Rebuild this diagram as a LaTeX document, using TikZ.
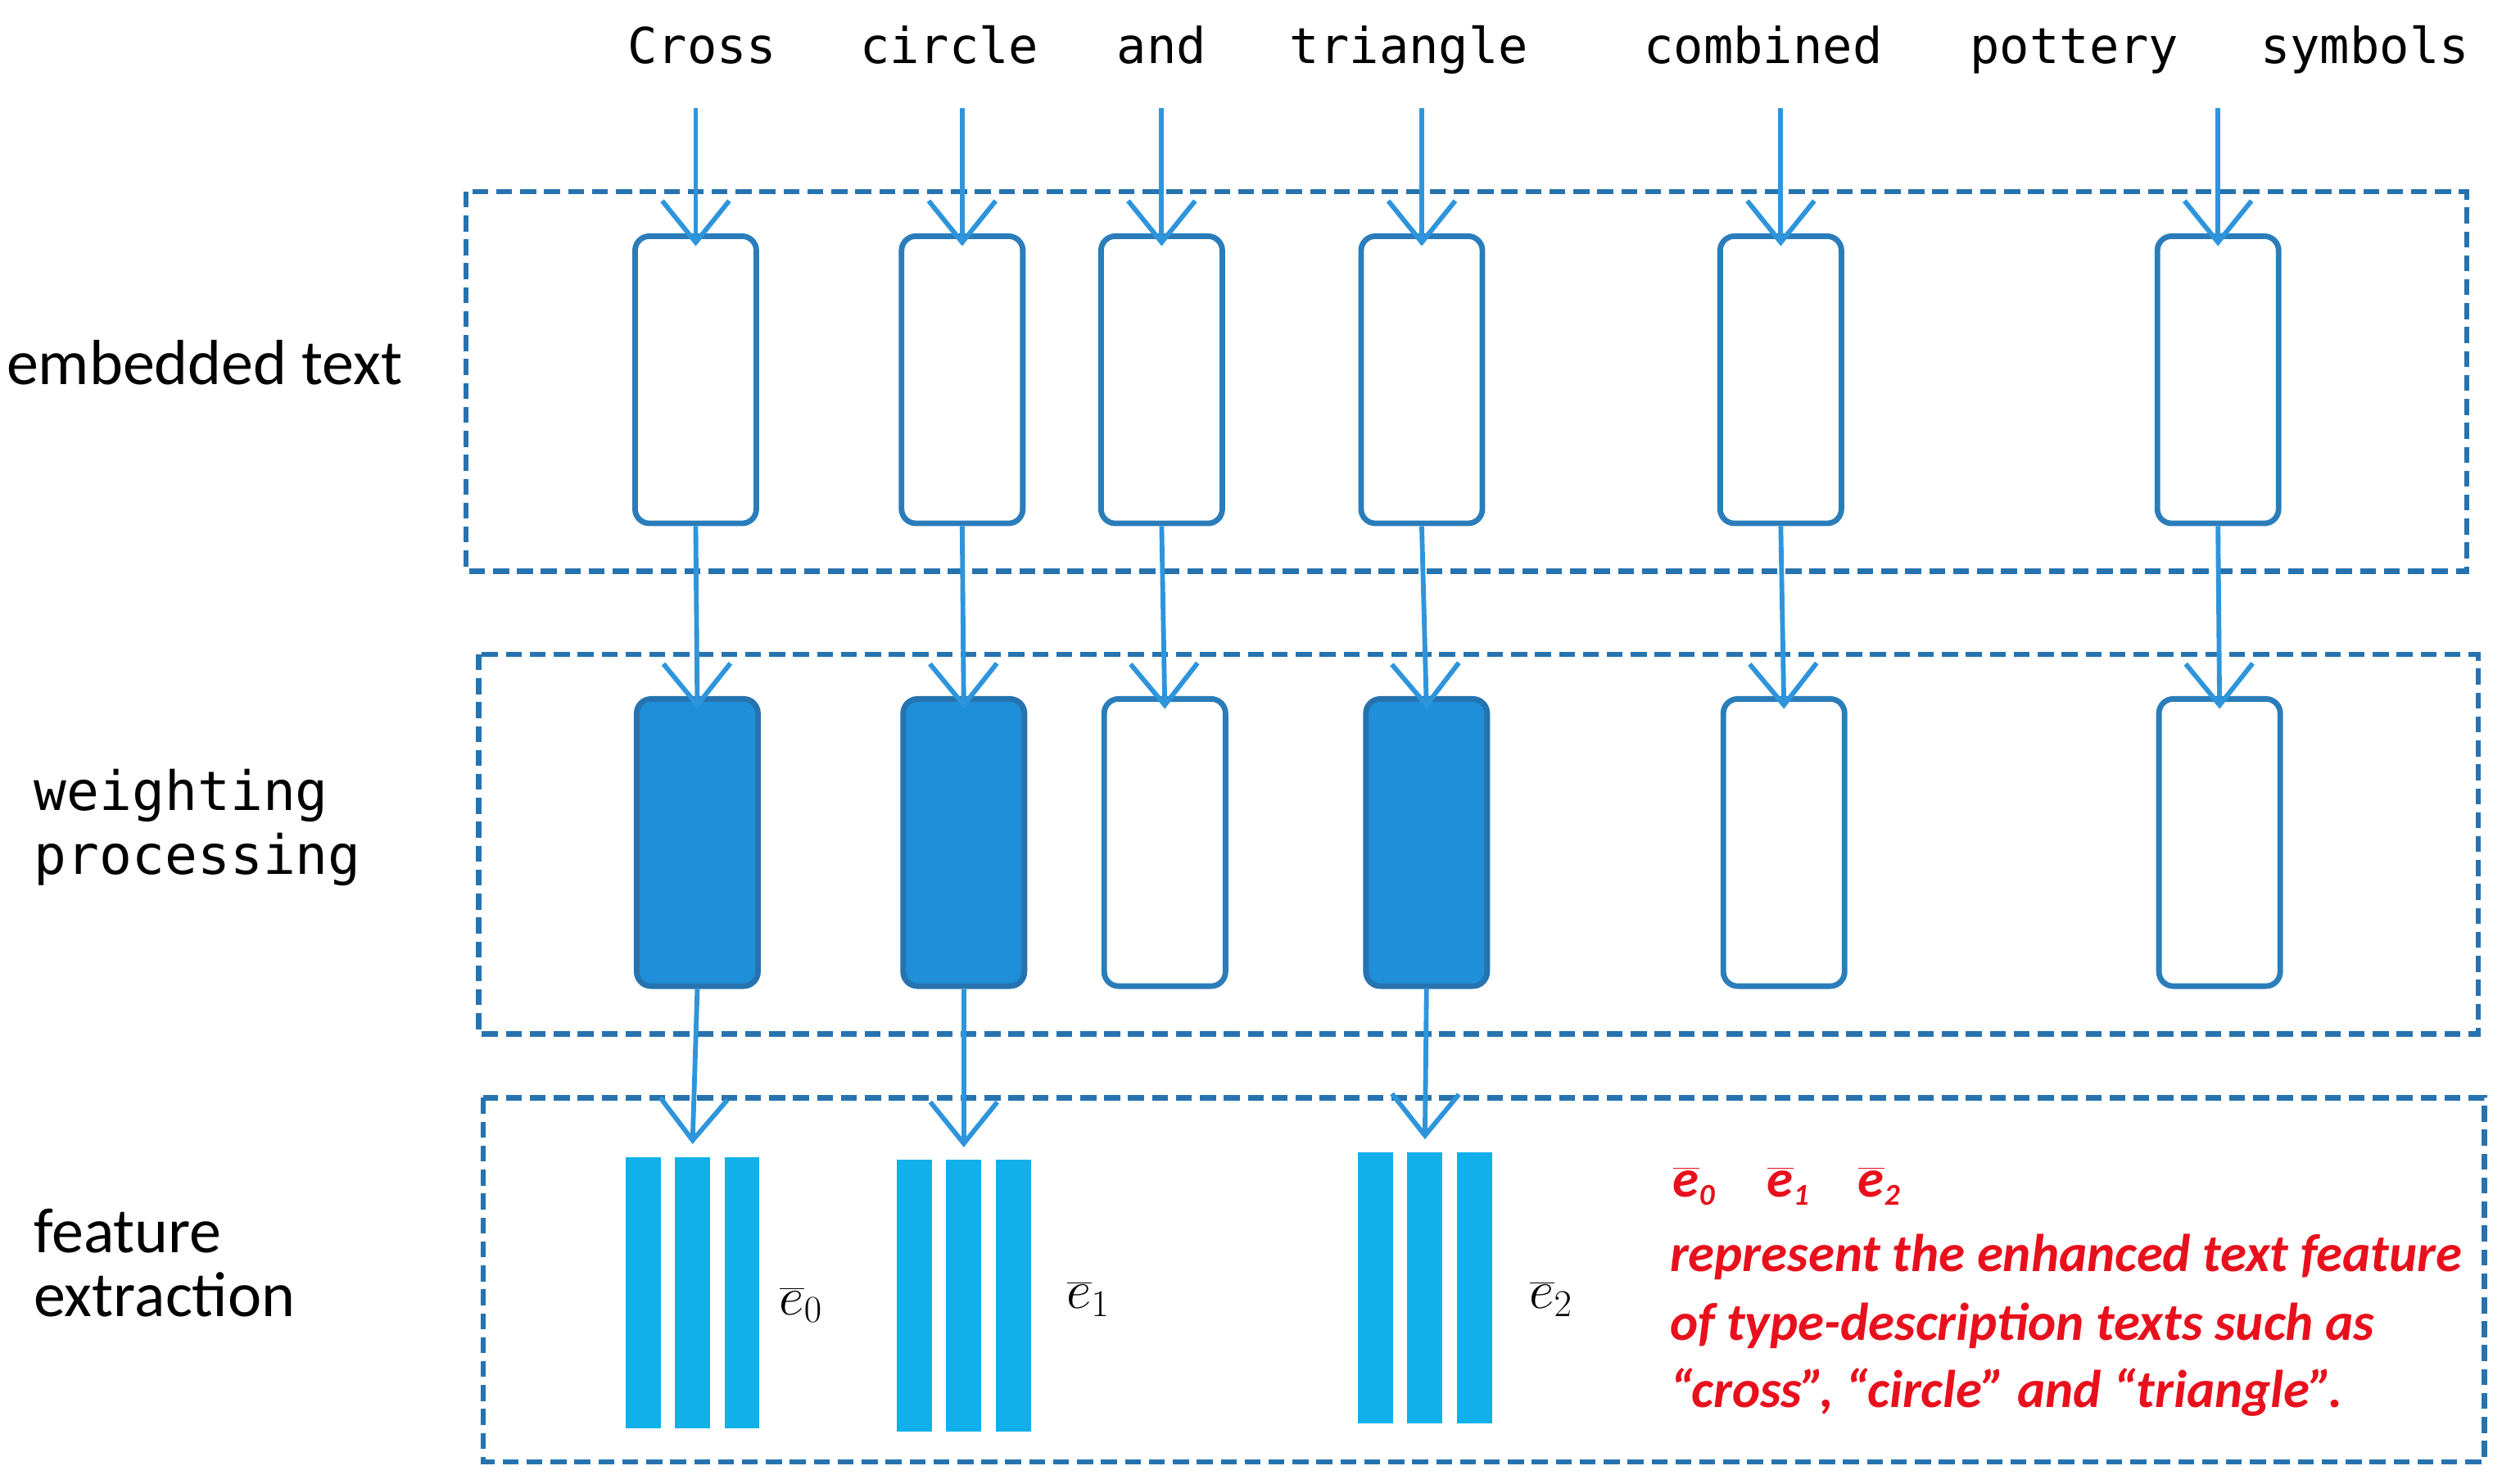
\documentclass[tikz,border=0pt]{standalone}
\usepackage{fix-cm}
\usepackage{fontspec}
\setmainfont{Carlito}
\newfontfamily\monof{DejaVu Sans Mono}
\usetikzlibrary{arrows.meta}
\definecolor{dashb}{HTML}{2673B0}
\definecolor{arr}{HTML}{2E95DC}
\definecolor{nodeb}{HTML}{2A7DBA}
\definecolor{fillb}{HTML}{1E8FD8}
\definecolor{barc}{HTML}{12B0EA}
\definecolor{redt}{HTML}{E8101C}
\newcommand{\rbar}[1]{$\overline{\mbox{e}}_{\mbox{\fontsize{19}{20}\selectfont #1}}$}
\begin{document}
\begin{tikzpicture}[x=1pt,y=-1pt,
  dbox/.style={draw=dashb,line width=3.2pt,dash pattern=on 10pt off 5pt},
  cell/.style={draw=nodeb,line width=3.5pt,rounded corners=9pt,minimum width=76pt,minimum height=180pt,inner sep=0pt},
  full/.style={cell,fill=fillb,draw=dashb},
  ar/.style={draw=arr,line width=3pt,-{Straight Barb[length=26pt,width=42pt,line width=3pt]}},
  top/.style={font=\monof\fontsize{31}{36}\selectfont,anchor=base},
  lab/.style={font=\fontsize{40}{44}\selectfont,anchor=base west,inner sep=1pt},
  mlab/.style={font=\monof\fontsize{34}{40}\selectfont,anchor=base west},
  bar/.style={fill=barc,draw=none},
  red/.style={font=\bfseries\itshape\fontsize{33.3}{40}\selectfont,text=redt,anchor=base west}]
\useasboundingbox (0,0) rectangle (1568,930);
% dashed boxes
\draw[dbox] (292,120) rectangle (1546,358);
\draw[dbox] (300,410) rectangle (1553,648);
\draw[dbox] (303,688) rectangle (1557,916);
% top words
\node[top] (w1) at (440,40) {Cross};
\node[top] (w2) at (595,40) {circle};
\node[top] (w3) at (728,40) {and};
\node[top] (w4) at (883,40) {triangle};
\node[top] (w5) at (1105,40) {combined};
\node[top] (w6) at (1300,40) {pottery};
\node[top] (w7) at (1482,40) {symbols};
% left labels
\node[lab] (l1) at (3,241) {embedded text};
\node[mlab] (l2) at (18,508) {weighting};
\node[mlab] (l2b) at (18,548) {processing};
\node[lab] (l3) at (20,785) {feature};
\node[lab] (l3b) at (20,825) {extraction};
% columns
\foreach \i/\x in {1/436,2/603,3/728,4/891,5/1116,6/1390}{
  \coordinate (s\i) at (\x,68);
  \node[cell] (a\i) at (\x,238) {};
}
\node[full] (b1) at (437,528) {};
\node[full] (b2) at (604,528) {};
\node[cell] (b3) at (730,528) {};
\node[full] (b4) at (894,528) {};
\node[cell] (b5) at (1118,528) {};
\node[cell] (b6) at (1391,528) {};
\foreach \i in {1,...,6}{
  \draw[ar] (s\i) -- ([yshift=-8pt]a\i.north);
  \draw[ar] (a\i.south) -- ([yshift=-8pt]b\i.north);
}
% feature bars
\foreach \n/\x/\y in {1/392/725,2/562/727,4/851/722}{
  \fill[bar] (\x,\y) rectangle ++(22,170);
  \fill[bar] (\x+31,\y) rectangle ++(22,170);
  \fill[bar] (\x+62,\y) rectangle ++(22,170);
  \coordinate (f\n) at (\x+42,\y-8);
}
\draw[ar] (b1.south) -- (f1);
\draw[ar] (b2.south) -- (f2);
\draw[ar] (b4.south) -- (f4);
\node[font=\fontsize{34}{36}\selectfont] (e0) at (502,818) {$\overline{e}_0$};
\node[font=\fontsize{34}{36}\selectfont] (e1) at (682,814) {$\overline{e}_1$};
\node[font=\fontsize{34}{36}\selectfont] (e2) at (972,814) {$\overline{e}_2$};
% red text
\node[red] (r0) at (1045,750) {\rbar{0}};
\node[red] (r0b) at (1104,750) {\rbar{1}};
\node[red] (r0c) at (1161,750) {\rbar{2}};
\node[red] (r1) at (1043,797) {represent the enhanced text feature};
\node[red] (r2) at (1043,840) {of type-description texts such as};
\node[red] (r3) at (1043,882) {“cross”, “circle” and “triangle”.};
\end{tikzpicture}
\end{document}
